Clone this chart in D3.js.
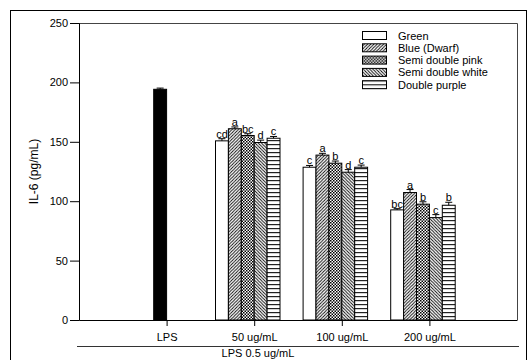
<!DOCTYPE html>
<html>
<head>
<meta charset="utf-8">
<script src="https://cdn.jsdelivr.net/npm/d3@7"></script>
<style>
  html, body { margin: 0; padding: 0; background: #fff; }
  svg { display: block; font-family: "Liberation Sans", Arial, sans-serif; }
</style>
</head>
<body>
<svg id="chart" width="532" height="360"></svg>
<script>
// data
const groups    = ["50 ug/mL", "100 ug/mL", "200 ug/mL"]
const series    = ["Green", "Blue (Dwarf)", "Semi double pink", "Semi double white", "Double purple"]
const green     = [150.8, 128.6, 92.7]
const blue      = [161.0, 138.8, 107.3]
const pink      = [155.3, 132.0, 97.5]
const white     = [149.4, 124.4, 86.2]
const purple    = [153.0, 128.6, 96.6]
const greenErr  = [1.8, 1.5, 1.0]
const blueErr   = [1.5, 1.5, 2.5]
const pinkErr   = [1.5, 1.8, 2.0]
const whiteErr  = [2.0, 2.2, 2.5]
const purpleErr = [1.5, 1.8, 2.5]
const letters50  = ["cd", "a", "bc", "d", "c"]
const letters100 = ["c", "a", "b", "d", "c"]
const letters200 = ["bc", "a", "b", "c", "b"]
const lpsValue  = 194.2
const lpsErr    = 1.0
const yTicks    = [0, 50, 100, 150, 200, 250]
const xLabels   = ["LPS", "50 ug/mL", "100 ug/mL", "200 ug/mL"]

const svg = d3.select('#chart')
const mLeft = 79, mRight = 517, mTop = 23, mBottom = 320

const x = d3.scaleLinear().domain([0, 5]).range([mLeft, mRight])
const y = d3.scaleLinear().domain([0, 250]).range([mBottom, mTop])
// six slots per group, the sixth stays empty (SigmaPlot style)
const slot = d3.scaleBand().domain(d3.range(6)).range([-38.7, 38.7])

// patterns
const defs = svg.append('defs')
function hatch(id, size, draw) {
  const p = defs.append('pattern')
    .attr('id', id).attr('patternUnits', 'userSpaceOnUse')
    .attr('width', size).attr('height', size)
  p.append('rect').attr('width', size).attr('height', size).attr('fill', '#fff')
  draw(p)
}
hatch('p-blue', 3.2, p => {
  p.append('path').attr('d', 'M-1,4.2 L4.2,-1 M-1,1 L1,-1 M2.2,4.2 L4.2,2.2')
    .attr('stroke', '#000').attr('stroke-width', 0.9)
})
hatch('p-white', 3.2, p => {
  p.append('path').attr('d', 'M-1,-1 L4.2,4.2 M-1,2.2 L1,4.2 M2.2,-1 L4.2,1')
    .attr('stroke', '#000').attr('stroke-width', 0.9)
})
hatch('p-pink', 3, p => {
  p.append('rect').attr('width', 1.5).attr('height', 1.5).attr('fill', '#000')
  p.append('rect').attr('x', 1.5).attr('y', 1.5).attr('width', 1.5).attr('height', 1.5).attr('fill', '#000')
})
const pp = defs.append('pattern').attr('id', 'p-purple').attr('patternUnits', 'userSpaceOnUse')
  .attr('width', 4).attr('height', 4)
pp.append('rect').attr('width', 4).attr('height', 4).attr('fill', '#fff')
pp.append('rect').attr('y', 0).attr('width', 4).attr('height', 1.2).attr('fill', '#222')
const fills = ['#fff', 'url(#p-blue)', 'url(#p-pink)', 'url(#p-white)', 'url(#p-purple)']

// outer frame
svg.append('rect').attr('x', 10.5).attr('y', 10.5).attr('width', 516).attr('height', 360)
  .attr('fill', 'none').attr('stroke', '#000')

// plot frame
svg.append('path')
  .attr('d', `M${mLeft},${mTop + 0.5}H${mRight + 0.5}V${mBottom}`)
  .attr('fill', 'none').attr('stroke', '#444')

// y axis
const yAxis = svg.append('g').attr('transform', `translate(${mLeft},0)`)
  .call(d3.axisLeft(y).tickValues(yTicks).tickSize(9).tickPadding(2))
yAxis.select('.domain').attr('stroke', '#000')
yAxis.selectAll('text').attr('font-size', 11).attr('fill', '#000').attr('font-family', 'Liberation Sans, Arial, sans-serif')

// x axis
const xAxis = svg.append('g').attr('transform', `translate(0,${mBottom})`)
  .call(d3.axisBottom(x).tickValues([1, 2, 3, 4]).tickFormat((d, i) => xLabels[i]).tickSize(6).tickPadding(7).tickSizeOuter(0))
xAxis.select('.domain').attr('stroke', '#000')
xAxis.selectAll('text').attr('font-size', 11).attr('fill', '#000').attr('font-family', 'Liberation Sans, Arial, sans-serif')

// y title
svg.append('text')
  .attr('transform', `translate(38,${(mTop + mBottom) / 2}) rotate(-90)`)
  .attr('text-anchor', 'middle').attr('font-size', 12)
  .text('IL-6 (pg/mL)')

// grouping line and label
svg.append('line').attr('x1', 77).attr('x2', 519).attr('y1', 346.5).attr('y2', 346.5)
  .attr('stroke', '#333')
svg.append('text').attr('x', 258).attr('y', 357).attr('text-anchor', 'middle')
  .attr('font-size', 11).text('LPS 0.5 ug/mL')

// build rows
const vals = [green, blue, pink, white, purple]
const errs = [greenErr, blueErr, pinkErr, whiteErr, purpleErr]
const lets = [letters50, letters100, letters200]
const rows = []
groups.forEach((g, gi) => {
  series.forEach((s, si) => {
    rows.push({ pos: gi + 2, slot: si, v: vals[si][gi], e: errs[si][gi], fill: fills[si], lab: lets[gi][si] })
  })
})
rows.push({ pos: 1, slot: 2, v: lpsValue, e: lpsErr, fill: '#000', lab: '' })

const bars = svg.append('g')
bars.selectAll('rect').data(rows).enter().append('rect')
  .attr('x', d => x(d.pos) + slot(d.slot))
  .attr('y', d => y(d.v))
  .attr('width', slot.bandwidth())
  .attr('height', d => y(0) - y(d.v))
  .attr('fill', d => d.fill)
  .attr('stroke', '#000').attr('stroke-width', 1)

// error bars
const eb = svg.append('g').attr('stroke', '#000').attr('stroke-width', 1)
rows.forEach(d => {
  const cx = x(d.pos) + slot(d.slot) + slot.bandwidth() / 2
  eb.append('line').attr('x1', cx).attr('x2', cx).attr('y1', y(d.v)).attr('y2', y(d.v + d.e))
  eb.append('line').attr('x1', cx - 3.5).attr('x2', cx + 3.5).attr('y1', y(d.v + d.e)).attr('y2', y(d.v + d.e))
})

// significance letters
svg.append('g').selectAll('text').data(rows.filter(d => d.lab)).enter().append('text')
  .attr('x', d => x(d.pos) + slot(d.slot) + slot.bandwidth() / 2)
  .attr('y', d => y(d.v + d.e) - 1)
  .attr('text-anchor', 'middle').attr('font-size', 11).attr('fill', '#000')
  .text(d => d.lab)

// legend
const lg = svg.append('g').attr('transform', 'translate(362,31)')
series.forEach((s, i) => {
  const row = lg.append('g').attr('transform', `translate(0,${i * 12.3})`)
  row.append('rect').attr('x', 0.5).attr('y', 0.5).attr('width', 24).attr('height', 8)
    .attr('fill', fills[i]).attr('stroke', '#000')
  row.append('text').attr('x', 36).attr('y', 8.5).attr('font-size', 11).text(s)
})
</script>
</body>
</html>
